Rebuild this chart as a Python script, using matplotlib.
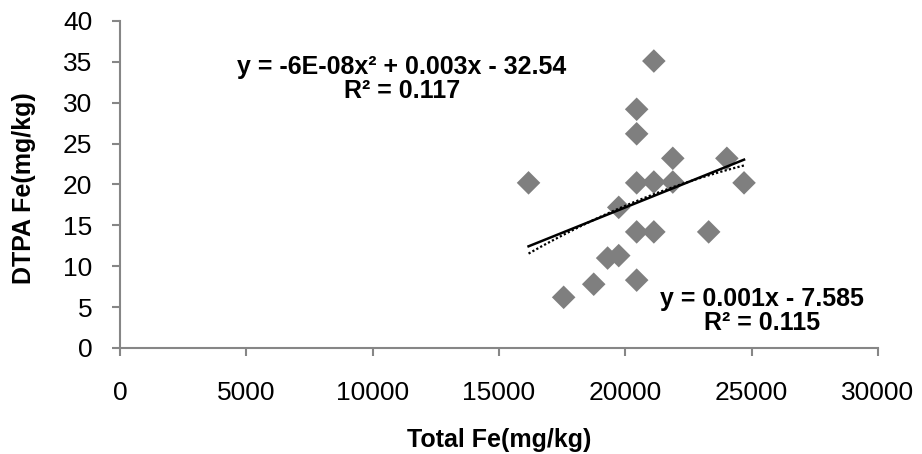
import numpy as np
import matplotlib
matplotlib.use("Agg")
import matplotlib.pyplot as plt

plt.rcParams['font.family'] = ['Liberation Sans', 'DejaVu Sans']

# Data
total_fe = [16170, 17560, 18750, 19300, 19740, 19740, 20450, 20450, 20450, 20450,
            20450, 21130, 21130, 21130, 21880, 21880, 23300, 24020, 24700]
dtpa_fe = [20.2, 6.2, 7.8, 11.0, 11.3, 17.2, 8.3, 14.2, 20.2, 26.2,
           29.2, 35.1, 20.3, 14.2, 23.2, 20.3, 14.2, 23.2, 20.2]

x_ticks = [0, 5000, 10000, 15000, 20000, 25000, 30000]
y_ticks = [0, 5, 10, 15, 20, 25, 30, 35, 40]
poly_label = "y = -6E-08x² + 0.003x - 32.54\nR² = 0.117"
lin_label = "y = 0.001x - 7.585\nR² = 0.115"

x = np.array(total_fe, dtype=float)
y = np.array(dtpa_fe, dtype=float)

fig = plt.figure(figsize=(9.22, 4.54), dpi=100)
ax = fig.add_axes([0.1302, 0.2335, 0.822, 0.7203])

ax.scatter(x, y, marker='D', s=12**2, color='#7f7f7f', edgecolors='none', zorder=2)

xs = np.linspace(x.min(), x.max(), 200)
lin = np.polyfit(x, y, 1)
quad = np.polyfit(x, y, 2)
ax.plot(xs, np.polyval(lin, xs), color='black', lw=1.8, zorder=3)
ax.plot(xs, np.polyval(quad, xs), color='black', lw=1.6, ls=(0, (1, 1)), zorder=3)

ax.set_xlim(0, 30000)
ax.set_ylim(0, 40)
ax.set_xticks(x_ticks)
ax.set_yticks(y_ticks)
ax.set_xticklabels([str(v) for v in x_ticks])
ax.set_yticklabels([str(v) for v in y_ticks])

for s in ['top', 'right']:
    ax.spines[s].set_visible(False)
for s in ['left', 'bottom']:
    ax.spines[s].set_color('#868686')
    ax.spines[s].set_linewidth(1.5)
ax.tick_params(axis='both', direction='out', length=6, width=1.5, color='#868686',
               labelsize=19, labelcolor='black')
ax.tick_params(axis='x', pad=18)
ax.tick_params(axis='y', pad=14)

ax.set_xlabel('Total Fe(mg/kg)', fontsize=18, fontweight='bold', va='baseline')
ax.xaxis.set_label_coords(0.5, (348 - 447) / 327)
ax.set_ylabel('DTPA Fe(mg/kg)', fontsize=18, fontweight='bold', va='center')
ax.yaxis.set_label_coords((24 - 120) / 758, (348 - 188) / 327)

ax.text(0.372, 0.8226, poly_label, transform=ax.transAxes, ha='center', va='center',
        fontsize=18, fontweight='bold', linespacing=1.0)
ax.text(0.847, 0.113, lin_label, transform=ax.transAxes, ha='center', va='center',
        fontsize=18, fontweight='bold', linespacing=1.0)

fig.savefig('out.png', dpi=100)
